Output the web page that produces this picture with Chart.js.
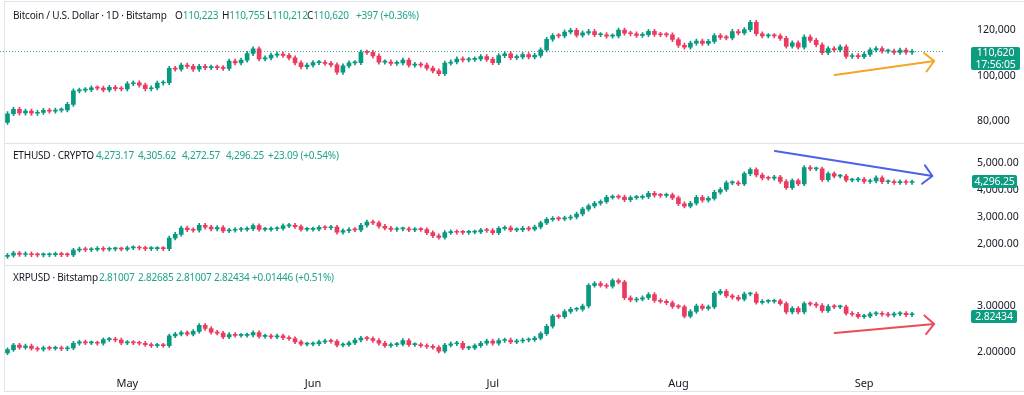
<!DOCTYPE html>
<html>
<head>
<meta charset="utf-8">
<script src="https://cdn.jsdelivr.net/npm/chart.js@4.4.1/dist/chart.umd.min.js"></script>
<style>
  body { margin: 0; background: #fff; }
  #wrap { position: relative; width: 1024px; height: 395px; overflow: hidden; font-family: 'Noto Sans', sans-serif; }
  .box { position: absolute; left: 0; width: 1024px; }
  .t { position: absolute; font-size: 10px; letter-spacing: -0.2px; line-height: 14px; color: #131722; white-space: nowrap; z-index: 2; }
  .g { color: #1fa38a; }
  .tag { position: absolute; background: #0c9c80; color: #fff; font-size: 10.5px; letter-spacing: -0.2px; text-align: center; border-radius: 2px; z-index: 2; }
  .line { position: absolute; background: #e0e3eb; }
</style>
</head>
<body>
<div id="wrap">
  <div class="line" style="left:4px;top:1px;width:1020px;height:1px"></div>
  <div class="line" style="left:4px;top:1px;width:1px;height:390px"></div>
  <div class="line" style="left:4px;top:391px;width:1020px;height:1px"></div>
  <div class="line" style="left:4px;top:143px;width:1020px;height:1px"></div>
  <div class="line" style="left:4px;top:265px;width:1020px;height:1px"></div>

  <div class="box" style="top:0;height:143px"><canvas id="btc"></canvas></div>
  <div class="box" style="top:144px;height:121px"><canvas id="eth"></canvas></div>
  <div class="box" style="top:266px;height:129px"><canvas id="xrp"></canvas></div>

  <span class="t" style="left:13px;top:8px">Bitcoin / U.S. Dollar · 1D · Bitstamp</span>
  <span class="t" style="left:175px;top:8px">O<span class="g">110,223</span></span>
  <span class="t" style="left:222px;top:8px">H<span class="g">110,755</span></span>
  <span class="t" style="left:267px;top:8px">L<span class="g">110,212</span></span>
  <span class="t" style="left:307px;top:8px">C<span class="g">110,620</span></span>
  <span class="t g" style="left:356px;top:8px">+397 (+0.36%)</span>

  <span class="t" style="left:13px;top:148px">ETHUSD · CRYPTO</span>
  <span class="t g" style="left:96px;top:148px">4,273.17</span>
  <span class="t g" style="left:138px;top:148px">4,305.62</span>
  <span class="t g" style="left:182px;top:148px">4,272.57</span>
  <span class="t g" style="left:226px;top:148px">4,296.25</span>
  <span class="t g" style="left:268px;top:148px">+23.09 (+0.54%)</span>

  <span class="t" style="left:13px;top:270px">XRPUSD · Bitstamp</span>
  <span class="t g" style="left:99px;top:270px">2.81007</span>
  <span class="t g" style="left:138px;top:270px">2.82685</span>
  <span class="t g" style="left:176px;top:270px">2.81007</span>
  <span class="t g" style="left:214px;top:270px">2.82434</span>
  <span class="t g" style="left:252px;top:270px">+0.01446 (+0.51%)</span>

  <div class="tag" style="left:971px;top:47px;width:49px;height:23px;line-height:11.5px">110,620<br>17:56:05</div>
  <div class="tag" style="left:972px;top:175px;width:45px;height:13px;line-height:13px">4,296.25</div>
  <div class="tag" style="left:971px;top:310px;width:46px;height:13px;line-height:13px">2.82434</div>
</div>

<script>
// daily candles, Apr 11 -> Sep 9 (index 0 = Apr 11), a few empty days on the right
const DAYS = 157;
const monthTicks = [20, 51, 81, 112, 143];
const monthLabels = ["May", "Jun", "Jul", "Aug", "Sep"];

const btcFirstOpen = 79600;
const btcClose = [
  83400, 85300, 83700, 84500, 83600, 84000, 84900, 84500, 85000, 85100,
  87500, 93400, 93700, 93900, 94700, 94600, 93800, 94900, 94300, 94200,
  96500, 96900, 95900, 94300, 94700, 96800, 97000, 103200, 102900, 104600,
  104100, 102800, 104100, 103500, 103700, 103500, 103200, 106400, 105600, 106800,
  109700, 111700, 107300, 107800, 109000, 109400, 108900, 107800, 105600, 103900,
  104600, 105700, 105800, 105400, 104700, 101500, 104300, 105600, 105700, 110300,
  110200, 108600, 105900, 106000, 105400, 105600, 106800, 104600, 104900, 104600,
  103300, 102100, 100900, 105500, 106000, 107300, 106900, 107100, 107300, 108300,
  107100, 105700, 108800, 109600, 107900, 108200, 109200, 108200, 108900, 111300,
  115900, 117500, 117400, 119100, 119800, 117700, 118700, 119300, 117900, 117900,
  117300, 117400, 119900, 118600, 118300, 117600, 117900, 119400, 118000, 117900,
  117800, 115800, 113300, 112500, 114200, 115100, 114100, 115000, 117500, 116700,
  116500, 119300, 118700, 120100, 123300, 118300, 117400, 117500, 117400, 116300,
  112900, 114300, 112500, 116900, 115400, 113500, 110100, 111800, 111300, 112600,
  108400, 108800, 108300, 109300, 111300, 111800, 110700, 110700, 110200, 111200,
  110223, 110620
];
const btcTicks = [80000, 100000, 120000];

const ethFirstOpen = 1520;
const ethClose = [
  1565, 1645, 1595, 1620, 1585, 1577, 1585, 1590, 1613, 1587,
  1580, 1755, 1795, 1770, 1785, 1820, 1790, 1800, 1800, 1795,
  1840, 1842, 1835, 1810, 1815, 1820, 1810, 2205, 2345, 2580,
  2515, 2495, 2680, 2610, 2545, 2595, 2475, 2495, 2525, 2530,
  2550, 2665, 2530, 2530, 2550, 2565, 2660, 2680, 2630, 2530,
  2530, 2540, 2600, 2590, 2610, 2420, 2480, 2525, 2510, 2680,
  2800, 2770, 2645, 2575, 2525, 2545, 2545, 2510, 2525, 2520,
  2405, 2290, 2230, 2410, 2445, 2420, 2415, 2425, 2435, 2500,
  2485, 2405, 2565, 2590, 2510, 2515, 2570, 2540, 2615, 2770,
  2900, 2930, 2920, 2950, 2990, 3100, 3280, 3400, 3500, 3560,
  3720, 3740, 3730, 3630, 3710, 3720, 3745, 3870, 3800, 3790,
  3810, 3700, 3480, 3395, 3500, 3720, 3610, 3680, 3910, 4010,
  4260, 4260, 4220, 4600, 4750, 4550, 4440, 4430, 4470, 4310,
  4080, 4340, 4220, 4830, 4780, 4780, 4380, 4600, 4510, 4510,
  4360, 4370, 4390, 4310, 4330, 4450, 4300, 4300, 4270, 4300,
  4273.17, 4296.25
];
const ethTicks = [2000, 3000, 4000, 5000];

const xrpFirstOpen = 1.98;
const xrpClose = [
  2.05, 2.15, 2.10, 2.13, 2.08, 2.06, 2.09, 2.08, 2.09, 2.07,
  2.09, 2.19, 2.22, 2.20, 2.20, 2.19, 2.27, 2.28, 2.26, 2.20,
  2.21, 2.20, 2.19, 2.16, 2.14, 2.15, 2.14, 2.35, 2.39, 2.42,
  2.39, 2.45, 2.58, 2.51, 2.43, 2.41, 2.33, 2.38, 2.36, 2.36,
  2.37, 2.42, 2.34, 2.35, 2.33, 2.35, 2.31, 2.29, 2.22, 2.17,
  2.17, 2.18, 2.22, 2.24, 2.23, 2.15, 2.16, 2.20, 2.26, 2.30,
  2.29, 2.25, 2.19, 2.14, 2.16, 2.17, 2.25, 2.16, 2.16, 2.14,
  2.12, 2.10, 2.02, 2.15, 2.18, 2.19, 2.09, 2.09, 2.14, 2.19,
  2.24, 2.19, 2.25, 2.26, 2.22, 2.24, 2.26, 2.27, 2.30, 2.40,
  2.56, 2.78, 2.77, 2.88, 2.93, 2.93, 3.00, 3.45, 3.49, 3.45,
  3.43, 3.55, 3.52, 3.18, 3.13, 3.15, 3.18, 3.25, 3.12, 3.10,
  3.07, 2.99, 2.98, 2.78, 2.88, 3.00, 2.95, 2.98, 3.28, 3.32,
  3.22, 3.19, 3.15, 3.26, 3.26, 3.08, 3.10, 3.10, 3.11, 3.05,
  2.87, 2.95, 2.87, 3.05, 3.04, 3.01, 2.90, 2.99, 2.98, 2.98,
  2.84, 2.82, 2.77, 2.78, 2.83, 2.84, 2.82, 2.80, 2.83, 2.84,
  2.81007, 2.82434
];
const xrpTicks = [2, 3];

const UP = "#089981";
const DOWN = "#ec3b60";

Chart.defaults.font.family = "'Noto Sans', sans-serif";
Chart.defaults.font.size = 10.5;
Chart.defaults.color = "#131722";

// body = open->close (open is the previous close), wick drawn a little past the body
function candleData(closes, firstOpen, wick) {
  const bodies = [], wicks = [], colors = [];
  closes.forEach((c, i) => {
    const o = i === 0 ? firstOpen : closes[i - 1];
    bodies.push([o, c]);
    wicks.push([Math.min(o, c) - wick, Math.max(o, c) + wick]);
    colors.push(c >= o ? UP : DOWN);
  });
  return [
    { data: wicks, backgroundColor: colors, barThickness: 1, grouped: false, order: 2 },
    { data: bodies, backgroundColor: colors, barThickness: 4, minBarLength: 1, grouped: false, order: 1 }
  ];
}

const overlay = {
  id: "overlay",
  afterDatasetsDraw(chart, args, opts) {
    const ctx = chart.ctx, xs = chart.scales.x, ys = chart.scales.y;
    ctx.save();
    if (opts.priceLine !== undefined) {
      const py = Math.round(ys.getPixelForValue(opts.priceLine)) + 0.5;
      ctx.strokeStyle = "rgba(8,153,129,0.8)";
      ctx.lineWidth = 1;
      ctx.setLineDash([1, 2]);
      ctx.beginPath();
      ctx.moveTo(chart.chartArea.left - 4.5, py);
      ctx.lineTo(chart.chartArea.right, py);
      ctx.stroke();
      ctx.setLineDash([]);
    }
    if (opts.arrow) {
      const a = opts.arrow;
      const ax = xs.getPixelForValue(a.from[0]), ay = ys.getPixelForValue(a.from[1]);
      const bx = xs.getPixelForValue(a.to[0]), by = ys.getPixelForValue(a.to[1]);
      const ang = Math.atan2(by - ay, bx - ax), L = 13, s = 0.8;
      ctx.strokeStyle = a.color;
      ctx.lineWidth = 2;
      ctx.lineCap = "round";
      ctx.lineJoin = "round";
      ctx.beginPath();
      ctx.moveTo(ax, ay);
      ctx.lineTo(bx, by);
      ctx.moveTo(bx - L * Math.cos(ang - s), by - L * Math.sin(ang - s));
      ctx.lineTo(bx, by);
      ctx.lineTo(bx - L * Math.cos(ang + s), by - L * Math.sin(ang + s));
      ctx.stroke();
    }
    ctx.restore();
  }
};

function makePanel(id, closes, firstOpen, wick, yMin, yMax, ticks, fmt, extra, showX) {
  return new Chart(document.getElementById(id), {
    type: "bar",
    data: {
      labels: Array.from({ length: DAYS }, (_, i) => i),
      datasets: candleData(closes, firstOpen, wick)
    },
    options: {
      responsive: true,
      maintainAspectRatio: false,
      animation: false,
      devicePixelRatio: 1,
      layout: { padding: { left: 4.5 } },
      plugins: { legend: { display: false }, tooltip: { enabled: false }, overlay: extra },
      scales: {
        x: {
          display: showX,
          grid: { display: false, drawTicks: false },
          border: { display: false },
          afterBuildTicks: s => { s.ticks = monthTicks.map(v => ({ value: v })); },
          afterFit: s => {
            s.height = showX ? 23 : 0;
            s.paddingLeft = 0;
            s.paddingRight = 0;
          },
          ticks: {
            autoSkip: false,
            maxRotation: 0,
            padding: 5,
            font: { size: 11 },
            callback: v => monthLabels[monthTicks.indexOf(v)]
          }
        },
        y: {
          position: "right",
          min: yMin,
          max: yMax,
          grid: { display: false, drawTicks: false },
          border: { display: false },
          afterBuildTicks: s => { s.ticks = ticks.map(v => ({ value: v })); },
          afterFit: s => { s.width = 79; s.paddingTop = 0; s.paddingBottom = 0; },
          ticks: { padding: 32, autoSkip: false, callback: fmt }
        }
      }
    },
    plugins: [overlay]
  });
}

makePanel("btc", btcClose, btcFirstOpen, 900, 70610, 133058, btcTicks,
  v => v.toLocaleString("en-US"),
  { priceLine: 110620, arrow: { from: [138.1, 100300], to: [154.7, 106420], color: "#f5a623" } }, false);

makePanel("eth", ethClose, ethFirstOpen, 70, 1203, 5704, ethTicks,
  v => v.toLocaleString("en-US", { minimumFractionDigits: 2, maximumFractionDigits: 2 }),
  { arrow: { from: [128.1, 5444], to: [154.4, 4514], color: "#4a63e6" } }, false);

makePanel("xrp", xrpClose, xrpFirstOpen, 0.04, 1.5652, 3.8696, xrpTicks,
  v => v.toFixed(5),
  { arrow: { from: [138.1, 2.413], to: [154.7, 2.609], color: "#ef4a57" } }, true);
</script>
</body>
</html>
